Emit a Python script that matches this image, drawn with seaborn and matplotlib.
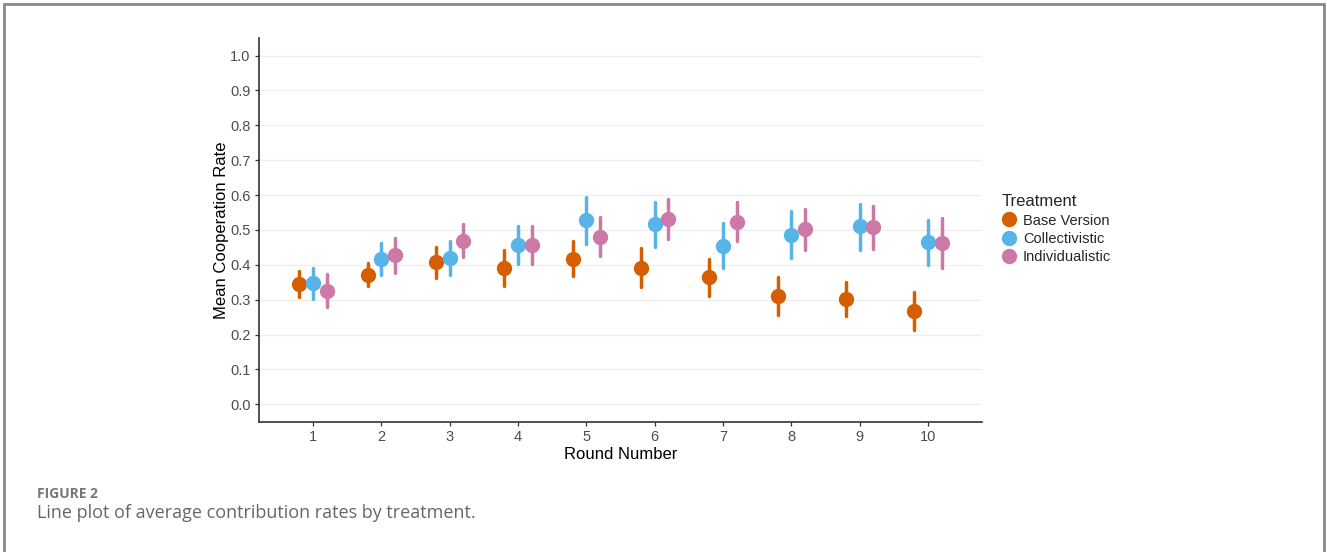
import numpy as np
import pandas as pd
import matplotlib
matplotlib.use("Agg")
import matplotlib.pyplot as plt
import seaborn as sns
from matplotlib.patches import Rectangle

# ---------------------------------------------
# Données
# ---------------------------------------------
rounds = [1, 2, 3, 4, 5, 6, 7, 8, 9, 10]
treatments = ["Base Version", "Collectivistic", "Individualistic"]

base_mean = [0.346, 0.371, 0.407, 0.390, 0.416, 0.390, 0.364, 0.311, 0.302, 0.267]
base_lo = [0.307, 0.338, 0.362, 0.338, 0.367, 0.335, 0.310, 0.257, 0.252, 0.214]
base_hi = [0.383, 0.405, 0.451, 0.443, 0.467, 0.448, 0.416, 0.364, 0.352, 0.321]

coll_mean = [0.348, 0.417, 0.419, 0.457, 0.529, 0.516, 0.455, 0.486, 0.510, 0.464]
coll_lo = [0.303, 0.371, 0.371, 0.402, 0.460, 0.452, 0.392, 0.419, 0.443, 0.400]
coll_hi = [0.392, 0.462, 0.467, 0.510, 0.593, 0.581, 0.519, 0.555, 0.574, 0.527]

ind_mean = [0.326, 0.427, 0.469, 0.457, 0.481, 0.530, 0.524, 0.502, 0.507, 0.462]
ind_lo = [0.279, 0.376, 0.421, 0.402, 0.426, 0.473, 0.467, 0.441, 0.445, 0.391]
ind_hi = [0.374, 0.476, 0.517, 0.510, 0.536, 0.589, 0.581, 0.560, 0.569, 0.533]

colors = ["#D55E00", "#56B4E9", "#CC79A7"]

# table longue : pour chaque groupe, borne basse / moyenne / borne haute
series = {
    "Base Version": (base_lo, base_mean, base_hi),
    "Collectivistic": (coll_lo, coll_mean, coll_hi),
    "Individualistic": (ind_lo, ind_mean, ind_hi),
}
rows = []
for t in treatments:
    lo, mid, hi = series[t]
    for i, r in enumerate(rounds):
        for v in (lo[i], mid[i], hi[i]):
            rows.append({"Round": r, "Treatment": t, "value": v})
df = pd.DataFrame(rows)

# ---------------------------------------------
# Figure
# ---------------------------------------------
sns.set_style("white")
plt.rcParams["font.family"] = ["Liberation Sans", "DejaVu Sans"]

fig = plt.figure(figsize=(13.27, 5.52), dpi=100)
ax = fig.add_axes([0.1952, 0.236, 0.5448, 0.695])

sns.pointplot(
    data=df, x="Round", y="value", hue="Treatment",
    hue_order=treatments, palette=colors,
    estimator="median", errorbar=lambda v: (v.min(), v.max()),
    dodge=0.4, linestyle="none", markers="o", markersize=9,
    err_kws={"linewidth": 2.5}, ax=ax,
)

ax.set_ylim(-0.05, 1.05)
ax.set_xlim(-0.79, 9.79)
ax.set_yticks(np.arange(0, 1.01, 0.1))
ax.set_yticklabels([f"{v:.1f}" for v in np.arange(0, 1.01, 0.1)])
ax.yaxis.grid(True, color="#EEEEEE", linewidth=0.9)
ax.xaxis.grid(False)
ax.set_axisbelow(True)

for side in ["top", "right"]:
    ax.spines[side].set_visible(False)
for side in ["left", "bottom"]:
    ax.spines[side].set_color("#333333")
    ax.spines[side].set_linewidth(1.2)

ax.tick_params(axis="both", which="major", direction="out", length=3, width=0.9,
               color="#333333", labelsize=10.5, labelcolor="#4D4D4D", pad=3,
               left=True, bottom=True)
ax.set_xlabel("Round Number", fontsize=12, color="black", labelpad=2)
ax.set_ylabel("Mean Cooperation Rate", fontsize=12, color="black", labelpad=1)

handles, labels = ax.get_legend_handles_labels()
ax.get_legend().remove()
leg = fig.legend(handles, labels, title="Treatment", loc="upper left",
                 bbox_to_anchor=(0.745, 0.672), frameon=False, fontsize=10.5,
                 title_fontsize=12, handlelength=1.0, handletextpad=0.45,
                 labelspacing=0.3, markerscale=1.0)
leg._legend_box.align = "left"

# cadre et légende de la figure
fig.patches.append(Rectangle((0.003, -0.05), 0.995, 1.043, transform=fig.transFigure,
                             fill=False, edgecolor="#888888", linewidth=2))
fig.text(0.028, 1 - 494 / 552, "FIGURE 2", fontsize=10, color="#777777",
         fontweight="bold", family=["Open Sans", "DejaVu Sans"], va="center")
fig.text(0.028, 1 - 513 / 552, "Line plot of average contribution rates by treatment.",
         fontsize=13, color="#666666", family=["Open Sans", "DejaVu Sans"], va="center")

fig.savefig("out.png", dpi=100)
